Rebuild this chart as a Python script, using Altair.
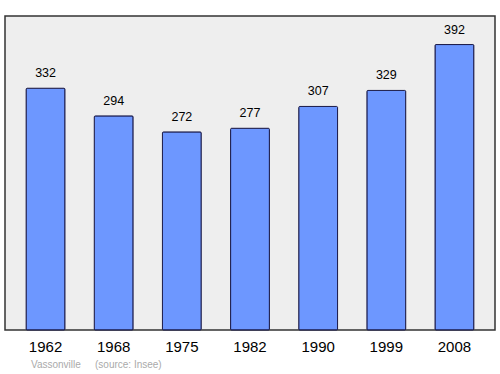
import altair as alt
import pandas as pd

years = ["1962", "1968", "1975", "1982", "1990", "1999", "2008"]
population = [332, 294, 272, 277, 307, 329, 392]
commune = "Vassonville"
source = "(source: Insee)"

df = pd.DataFrame({"year": years, "pop": population})
FONT = "Liberation Sans"

x = alt.X("year:N", sort=years, title=None,
          scale=alt.Scale(paddingInner=0.43, paddingOuter=0.31),
          axis=alt.Axis(labelAngle=0, labelFontSize=15, labelColor="#000000",
                        labelFont=FONT, labelPadding=9, domain=False, ticks=False))
y = alt.Y("pop:Q", title=None, scale=alt.Scale(domain=[0, 431.2], nice=False),
          axis=None)

bars = alt.Chart(df).mark_bar(fill="#6d97ff", stroke="#1a1a4a", strokeWidth=1,
                              cornerRadius=1).encode(x=x, y=y)
labels = alt.Chart(df).mark_text(baseline="bottom", dy=-8, fontSize=12.5, font=FONT,
                                 color="#000000").encode(x=x, y=y, text="pop:Q")

src = pd.DataFrame({"t": [commune, source], "px": [26, 90]})
source_text = alt.Chart(src).mark_text(align="left", baseline="middle", fontSize=10,
                                       font=FONT, color="#aaaaaa").encode(
    x=alt.X("px:Q", scale=None), y=alt.value(349), text="t:N")

chart = alt.layer(bars, labels, source_text).properties(
    width=490, height=314,
    autosize=alt.AutoSizeParams(type="none"),
    padding={"left": 5, "top": 16, "right": 5, "bottom": 44},
    background="#ffffff",
).configure_view(fill="#eeeeee", stroke="#333333", strokeWidth=1.5)

chart.save("out.html", embed_options={"renderer": "svg", "actions": False})
